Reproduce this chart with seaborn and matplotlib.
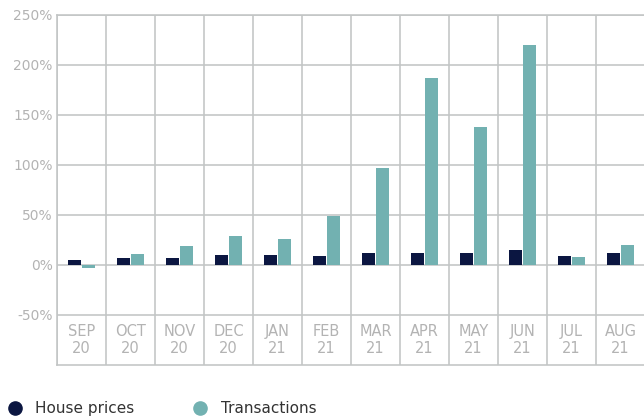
import numpy as np
import pandas as pd
import seaborn as sns
import matplotlib.pyplot as plt
from matplotlib.lines import Line2D

months = ["SEP\n20", "OCT\n20", "NOV\n20", "DEC\n20", "JAN\n21", "FEB\n21",
          "MAR\n21", "APR\n21", "MAY\n21", "JUN\n21", "JUL\n21", "AUG\n21"]
house_prices = [5, 7, 7, 10, 10, 9, 12, 12, 12, 15, 9, 12]
transactions = [-3, 11, 19, 29, 26, 49, 97, 187, 138, 220, 8, 20]
series_names = ["House prices", "Transactions"]
yticks = [-50, 0, 50, 100, 150, 200, 250]

NAVY = "#0b1641"
TEAL = "#72b1b1"
GRID = "#c2c5c5"
LABEL = "#b3b3b3"

sns.set_theme(style="white")
plt.rcParams["font.family"] = ["DejaVu Sans"]

df = pd.DataFrame({
    "month": months * 2,
    "value": house_prices + transactions,
    "series": [series_names[0]] * len(months) + [series_names[1]] * len(months),
})

fig = plt.figure(figsize=(6.44, 4.16), dpi=100)
ax = fig.add_axes([57 / 644, 1 - 365 / 416, 588 / 644, 350 / 416])

sns.barplot(data=df, x="month", y="value", hue="series", order=months,
            hue_order=series_names, palette=[NAVY, TEAL], width=0.6, gap=0.12,
            saturation=1, linewidth=0, legend=False, ax=ax, zorder=3)

ax.set_xlim(-0.5, len(months) - 0.5)
ax.set_ylim(-100, 250)
ax.set_yticks(yticks)
ax.set_yticklabels([f"{v}%" for v in yticks], color=LABEL, fontsize=10)
ax.tick_params(axis="y", length=0, pad=3)
ax.set_xticks([])
ax.set_xlabel("")
ax.set_ylabel("")

for v in yticks:
    ax.axhline(v, color=GRID, lw=1.15, zorder=1)
for i in range(len(months) + 1):
    ax.axvline(i - 0.5, color=GRID, lw=1.15, zorder=1)
for s in ax.spines.values():
    s.set_color(GRID)
    s.set_linewidth(1.15)

for i, m in enumerate(months):
    ax.text(i, -75, m, ha="center", va="center", color=LABEL, fontsize=10.5,
            linespacing=1.15)

handles = [Line2D([], [], marker="o", ls="", color=NAVY, markersize=9.5),
           Line2D([], [], marker="o", ls="", color=TEAL, markersize=9.5)]
fig.legend(handles, series_names, loc="center left", bbox_to_anchor=(-0.022, 0.018),
           ncol=2, frameon=False, fontsize=11, handletextpad=0.35,
           columnspacing=3.3, labelcolor="#333333")

fig.savefig("out.png", dpi=100)
